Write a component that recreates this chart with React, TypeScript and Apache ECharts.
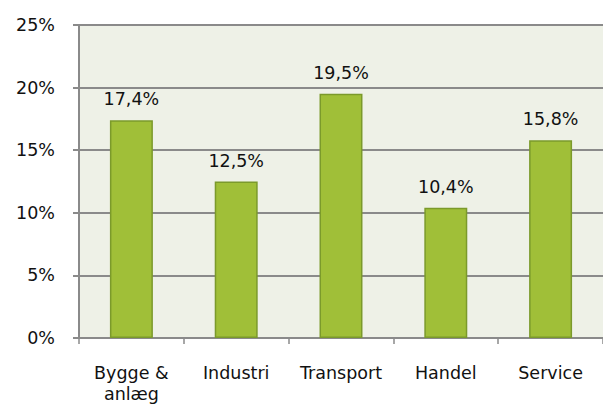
import React, { useEffect, useRef } from "react";
import * as echarts from "echarts";

const categories = ["Bygge &\nanlæg", "Industri", "Transport", "Handel", "Service"];
const values = [17.4, 12.5, 19.5, 10.4, 15.8];
const yTicks = [0, 5, 10, 15, 20, 25];

export default function App() {
  const ref = useRef<HTMLDivElement>(null);
  useEffect(() => {
    const chart = echarts.init(ref.current!, null, { renderer: "svg" });
    const font = "DejaVu Sans, Verdana, sans-serif";
    chart.setOption({
      animation: false,
      grid: {
        left: 79,
        top: 25,
        right: -4,
        bottom: 68,
        show: true,
        backgroundColor: "#eef1e7",
        borderWidth: 0,
      },
      xAxis: {
        type: "category",
        data: categories,
        axisLine: { show: true, lineStyle: { color: "#8a8a8a", width: 2 } },
        axisTick: { show: true, interval: 0, length: 6, lineStyle: { color: "#8a8a8a", width: 1.5 } },
        axisLabel: { interval: 0, color: "#111", fontFamily: font, fontSize: 17.5, margin: 24, lineHeight: 21 },
      },
      yAxis: {
        type: "value",
        min: yTicks[0],
        max: yTicks[yTicks.length - 1],
        interval: 5,
        axisLine: { show: true, lineStyle: { color: "#8a8a8a", width: 2 } },
        axisTick: { show: true, length: 6, lineStyle: { color: "#8a8a8a", width: 2 } },
        splitLine: { show: true, lineStyle: { color: "#8a8a8a", width: 2 } },
        axisLabel: {
          color: "#111",
          fontFamily: font,
          fontSize: 17.5,
          margin: 24,
          formatter: (v: number) => `${v}%`,
        },
      },
      series: [
        {
          type: "bar",
          data: values,
          barWidth: "41%",
          itemStyle: { color: "#a0bf38", borderColor: "#7b9a2b", borderWidth: 1.5 },
          label: {
            show: true,
            position: "top",
            distance: 12,
            color: "#111",
            fontFamily: font,
            fontSize: 17.5,
            formatter: (p: any) => `${p.value.toFixed(1).replace(".", ",")}%`,
          },
        },
      ],
    });
    return () => chart.dispose();
  }, []);
  return <div ref={ref} style={{ width: 603, height: 406, position: "absolute", left: 0, top: 0 }} />;
}
